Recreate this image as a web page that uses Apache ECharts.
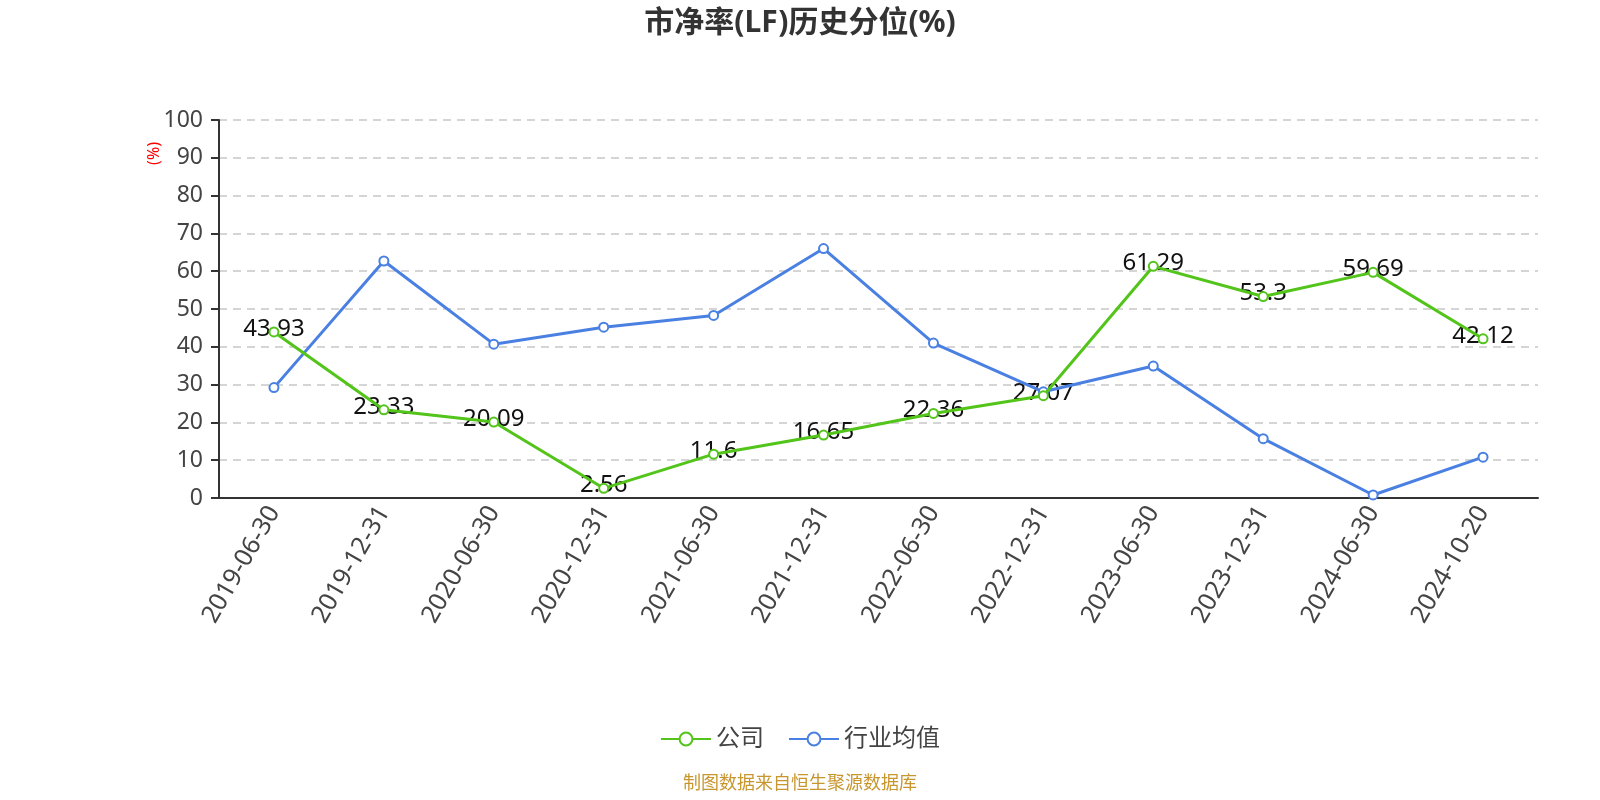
<!DOCTYPE html>
<html>
<head>
<meta charset="utf-8">
<script src="https://cdn.jsdelivr.net/npm/echarts@6/dist/echarts.min.js"></script>
<style>html,body{margin:0;padding:0;background:#fff}#c{width:1600px;height:800px}</style>
</head>
<body>
<div id="c"></div>
<script>
var categories = ['2019-06-30','2019-12-31','2020-06-30','2020-12-31','2021-06-30','2021-12-31','2022-06-30','2022-12-31','2023-06-30','2023-12-31','2024-06-30','2024-10-20'];
var companyValues = [43.93, 23.33, 20.09, 2.56, 11.6, 16.65, 22.36, 27.07, 61.29, 53.3, 59.69, 42.12];
var industryValues = [29.2, 62.7, 40.7, 45.2, 48.3, 66.0, 41.0, 28.1, 34.9, 15.7, 0.8, 10.8];
var yTicks = [0, 10, 20, 30, 40, 50, 60, 70, 80, 90, 100];
var seriesNames = ['公司', '行业均值'];
var titleText = '市净率(LF)历史分位(%)';
var sourceText = '制图数据来自恒生聚源数据库';

var chart = echarts.init(document.getElementById('c'));
var FONT = '"Noto Sans", "Noto Sans CJK SC", sans-serif';
chart.setOption({
  animation: false,
  textStyle: { fontFamily: FONT },
  title: [
    { text: titleText, left: 'center', top: 3, textStyle: { fontSize: 30, fontWeight: 'bold', color: '#333', fontFamily: FONT } },
    { text: sourceText, left: 'center', bottom: 2, textStyle: { fontSize: 18, fontWeight: 'normal', color: '#c8962e', fontFamily: FONT } }
  ],
  legend: {
    bottom: 44,
    left: 'center',
    itemWidth: 50,
    itemHeight: 16,
    itemGap: 24,
    textStyle: { fontSize: 24, color: '#444', fontFamily: FONT },
    data: seriesNames
  },
  grid: { left: 219, right: 62, top: 120, bottom: 302, containLabel: false },
  xAxis: {
    type: 'category',
    data: categories,
    boundaryGap: true,
    axisLine: { lineStyle: { color: '#333', width: 2 } },
    axisTick: { alignWithLabel: false, length: 8, lineStyle: { color: '#333', width: 2 } },
    axisLabel: { rotate: 60, fontSize: 25, color: '#444', margin: 10, interval: 0 }
  },
  yAxis: {
    type: 'value',
    min: yTicks[0],
    max: yTicks[yTicks.length - 1],
    interval: 10,
    axisLine: { show: true, lineStyle: { color: '#333', width: 2 } },
    axisTick: { show: true, length: 8, lineStyle: { color: '#333', width: 2 } },
    axisLabel: { fontSize: 23, color: '#444', margin: 16 },
    splitLine: { lineStyle: { type: [8, 6], color: '#c8c8c8', width: 1.5 } }
  },
  graphic: [{
    type: 'text', left: 146, top: 142, rotation: Math.PI / 2,
    style: { text: '(%)', fill: '#ff0000', font: '16px ' + FONT }
  }],
  series: [
    {
      name: seriesNames[0], type: 'line', data: companyValues,
      symbol: 'emptyCircle', symbolSize: 9,
      lineStyle: { color: '#52c41a', width: 3 },
      itemStyle: { color: '#52c41a', borderWidth: 2 },
      z: 3
    },
    {
      name: seriesNames[1], type: 'line', data: industryValues,
      symbol: 'emptyCircle', symbolSize: 9,
      lineStyle: { color: '#4a80e2', width: 3 },
      itemStyle: { color: '#4a80e2', borderWidth: 2 },
      z: 2
    },
    {
      name: 'label', type: 'line', data: companyValues,
      symbol: 'circle', symbolSize: 0.1, showSymbol: true, showAllSymbol: true,
      lineStyle: { opacity: 0 }, itemStyle: { color: 'rgba(0,0,0,0)' }, silent: true,
      legendHoverLink: false, tooltip: { show: false },
      label: { show: true, position: 'inside', fontSize: 24, color: '#111', offset: [0, -3] },
      z: 1
    }
  ]
});
</script>
</body>
</html>
